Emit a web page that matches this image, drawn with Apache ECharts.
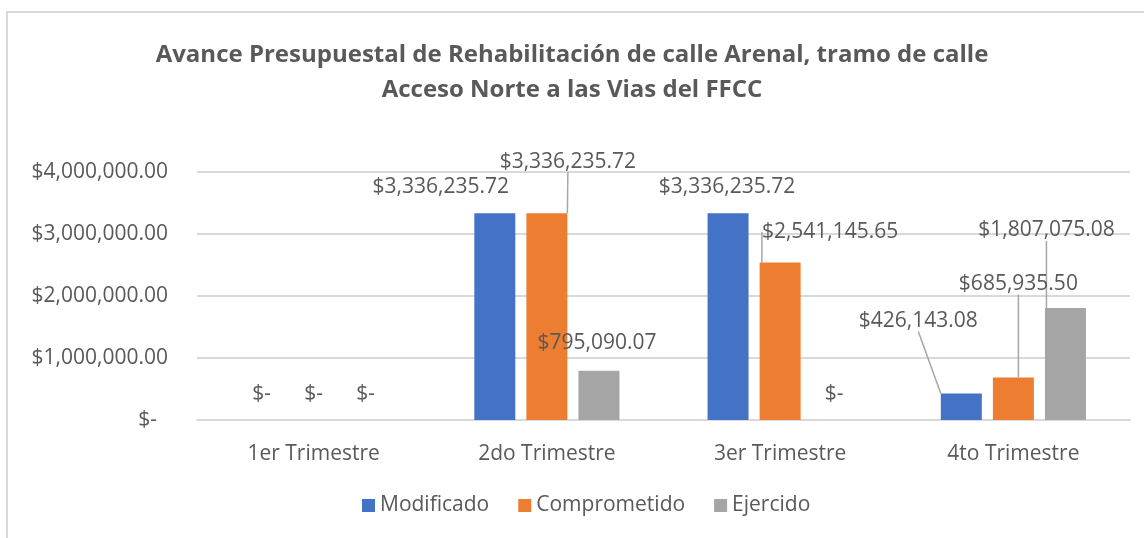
<!DOCTYPE html>
<html>
<head>
<meta charset="utf-8">
<script src="https://cdn.jsdelivr.net/npm/echarts@6/dist/echarts.min.js"></script>
<style>
    html, body { margin: 0; padding: 0; background: #fff; }
    #frame { position: absolute; left: 6px; top: 11px; width: 1140px; height: 530px; border-top: 2px solid #d9d9d9; border-left: 2px solid #d9d9d9; }
    #avance { position: absolute; left: 0; top: 0; width: 1144px; height: 538px; }
</style>
</head>
<body>
<div id="frame"></div>
<div id="avance"></div>
<script>
    // datos del grafico
    var trimestres = ['1er Trimestre', '2do Trimestre', '3er Trimestre', '4to Trimestre'];
    var modificado = [0, 3336235.72, 3336235.72, 426143.08];
    var comprometido = [0, 3336235.72, 2541145.65, 685935.50];
    var ejercido = [0, 795090.07, 0, 1807075.08];
    var ejeY = [0, 1000000, 2000000, 3000000, 4000000];

    // desplazamiento de etiquetas (como en Excel) y lineas guia
    var desplaza = [
        [[0, -10], [-54, -11], [-1, -11], [-43, -57]],
        [[0, -10], [21, -36], [50, -15], [5, -78]],
        [[0, -10], [-2, -12], [2, -10], [-19, -62]]
    ];
    var guia = [[3], [1, 2, 3], [3]];

    var texto = '#595959';
    var fuente = 'Open Sans';

    function dinero(v) {
        if (v === 0) return '$-';
        return '$' + v.toLocaleString('en-US', {minimumFractionDigits: 2, maximumFractionDigits: 2});
    }

    function serie(nombre, datos, color, idx) {
        return {
            name: nombre,
            type: 'bar',
            barWidth: 41,
            barGap: '27%',
            itemStyle: {color: color},
            data: datos.map(function (v, i) {
                return {value: v, labelLine: {show: guia[idx].indexOf(i) >= 0}};
            }),
            label: {
                show: true,
                position: 'top',
                distance: 5,
                color: texto,
                fontFamily: fuente,
                fontSize: 21,
                formatter: function (p) { return dinero(p.value); }
            },
            labelLine: {show: true, lineStyle: {color: '#a6a6a6', width: 1.5}},
            labelLayout: function (p) {
                var d = desplaza[idx][p.dataIndex];
                return {dx: d[0], dy: d[1]};
            }
        };
    }

    var myChart = echarts.init(document.getElementById('avance'));
    var option = {
        animation: false,
        textStyle: {fontFamily: fuente},
        title: {
            text: 'Avance Presupuestal de Rehabilitación de calle Arenal, tramo de calle\nAcceso Norte a las Vias del FFCC',
            left: 'center',
            top: 33,
            textStyle: {
                fontFamily: fuente,
                fontSize: 24,
                fontWeight: 'bold',
                color: texto,
                lineHeight: 35
            }
        },
        legend: {
            bottom: 17,
            left: 357,
            icon: 'rect',
            itemWidth: 13,
            itemHeight: 13,
            itemGap: 29,
            textStyle: {color: texto, fontSize: 21, fontFamily: fuente},
            data: ['Modificado', 'Comprometido', 'Ejercido']
        },
        grid: {left: 197, right: 14, top: 172, bottom: 118},
        xAxis: {
            type: 'category',
            data: trimestres,
            axisLine: {lineStyle: {color: '#d9d9d9', width: 2}},
            axisTick: {show: false},
            axisLabel: {color: texto, fontSize: 21, margin: 24}
        },
        yAxis: {
            type: 'value',
            min: ejeY[0],
            max: ejeY[ejeY.length - 1],
            interval: 1000000,
            axisLine: {show: false},
            axisTick: {show: false},
            splitLine: {lineStyle: {color: '#d9d9d9', width: 2}},
            axisLabel: {
                color: texto,
                fontSize: 21,
                margin: 29,
                formatter: function (v) { return v === 0 ? '$-  ' : dinero(v); }
            }
        },
        series: [
            serie('Modificado', modificado, '#4472c4', 0),
            serie('Comprometido', comprometido, '#ed7d31', 1),
            serie('Ejercido', ejercido, '#a5a5a5', 2)
        ]
    };
    myChart.setOption(option);
</script>
</body>
</html>
